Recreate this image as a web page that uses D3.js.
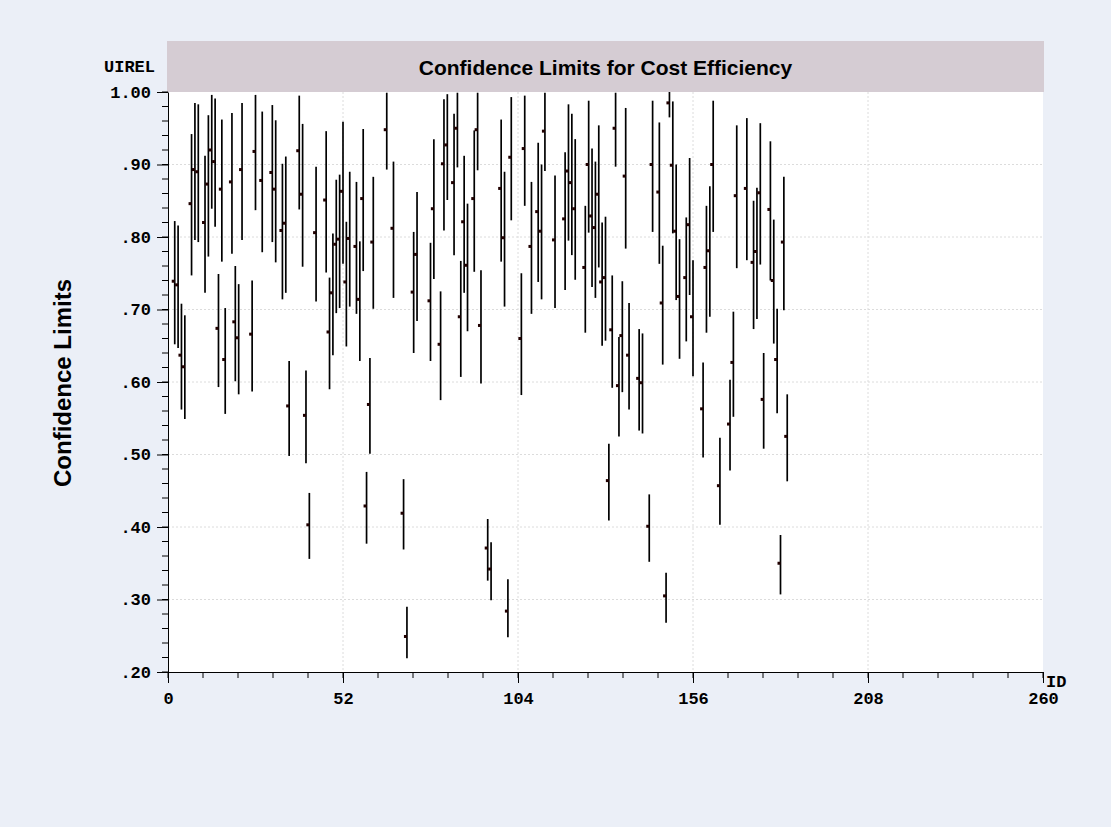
<!DOCTYPE html>
<html>
<head>
<meta charset="utf-8">
<script src="https://cdn.jsdelivr.net/npm/d3@7/dist/d3.min.js"></script>
<style>
  html, body { margin: 0; padding: 0; background: #ebeff7; }
  svg { display: block; }
</style>
</head>
<body>
<div id="figure-div"></div>
<script>
// ID of each firm plotted
var ids = [2,3,4,5,7,8,9,11,12,13,14,15,16,17,19,20,21,22,25,26,28,
  31,32,34,35,36,39,40,41,42,44,47,48,49,50,51,52,53,54,56,57,58,59,60,61,
  65,67,70,71,73,74,78,79,81,82,83,85,86,87,88,89,91,92,
  93,95,96,99,100,101,102,105,106,108,110,111,112,115,118,119,120,121,124,
  125,126,127,128,129,130,131,132,133,134,135,136,137,140,141,143,144,146,147,148,149,150,151,152,154,155,
  156,159,160,161,162,164,167,168,169,172,174,175,176,177,179,180,181,182,183,184];

// point estimate of cost efficiency
var estimate = [0.739,0.734,0.637,0.621,0.846,0.893,0.890,0.820,0.873,0.920,0.904,0.674,0.866,0.631,0.876,0.683,0.661,0.893,0.666,0.918,0.878,
  0.889,0.866,0.809,0.819,0.567,0.919,0.859,0.554,0.403,0.806,0.851,0.669,0.723,0.790,0.797,0.863,0.738,0.798,0.787,0.714,0.853,0.429,0.569,0.793,
  0.948,0.812,0.419,0.249,0.724,0.776,0.712,0.839,0.652,0.901,0.927,0.875,0.950,0.690,0.821,0.761,0.853,0.948,
  0.678,0.371,0.342,0.867,0.799,0.284,0.910,0.660,0.922,0.787,0.835,0.808,0.946,0.796,0.825,0.891,0.875,0.839,0.758,
  0.900,0.829,0.813,0.859,0.738,0.744,0.464,0.672,0.950,0.595,0.664,0.884,0.637,0.605,0.599,0.401,0.900,0.862,0.709,0.305,0.985,0.899,0.808,0.718,0.744,0.817,
  0.690,0.563,0.758,0.781,0.900,0.457,0.542,0.627,0.857,0.867,0.765,0.780,0.861,0.576,0.838,0.740,0.631,0.350,0.793,0.525];

// lower confidence limit
var lower = [0.652,0.647,0.562,0.549,0.747,0.796,0.793,0.723,0.773,0.839,0.814,0.593,0.766,0.556,0.777,0.601,0.583,0.796,0.587,0.837,0.779,
  0.793,0.765,0.714,0.723,0.498,0.838,0.759,0.488,0.356,0.711,0.751,0.590,0.637,0.695,0.702,0.763,0.649,0.704,0.694,0.629,0.753,0.377,0.501,0.701,
  0.893,0.716,0.369,0.219,0.640,0.684,0.629,0.742,0.575,0.809,0.851,0.775,0.896,0.607,0.723,0.670,0.752,0.892,
  0.598,0.326,0.299,0.766,0.704,0.248,0.823,0.582,0.843,0.694,0.738,0.714,0.891,0.702,0.727,0.795,0.775,0.741,0.668,
  0.806,0.731,0.716,0.758,0.650,0.657,0.409,0.592,0.897,0.525,0.586,0.784,0.562,0.533,0.529,0.352,0.807,0.763,0.624,0.268,0.965,0.805,0.713,0.632,0.656,0.720,
  0.608,0.496,0.668,0.690,0.807,0.403,0.478,0.552,0.757,0.768,0.673,0.687,0.762,0.508,0.740,0.653,0.557,0.307,0.699,0.463];

// upper confidence limit
var upper = [0.822,0.816,0.708,0.692,0.942,0.985,0.983,0.912,0.968,0.996,0.991,0.749,0.962,0.702,0.971,0.760,0.735,0.985,0.740,0.996,0.973,
  0.982,0.961,0.901,0.911,0.629,0.995,0.956,0.616,0.447,0.897,0.946,0.744,0.805,0.879,0.886,0.959,0.821,0.890,0.876,0.794,0.949,0.476,0.633,0.883,
  0.999,0.904,0.466,0.290,0.807,0.862,0.792,0.935,0.725,0.990,0.997,0.970,0.999,0.767,0.912,0.846,0.947,0.999,
  0.754,0.411,0.379,0.962,0.890,0.328,0.993,0.750,0.995,0.876,0.930,0.900,0.999,0.885,0.917,0.983,0.970,0.935,0.843,
  0.988,0.922,0.904,0.954,0.820,0.828,0.515,0.747,0.999,0.662,0.739,0.978,0.709,0.673,0.667,0.445,0.988,0.958,0.788,0.337,1.000,0.987,0.900,0.797,0.827,0.909,
  0.768,0.627,0.843,0.870,0.988,0.523,0.603,0.697,0.954,0.964,0.850,0.868,0.957,0.640,0.932,0.824,0.701,0.389,0.883,0.583];

var xTicks = [0, 52, 104, 156, 208, 260];
var yTicks = [0.2, 0.3, 0.4, 0.5, 0.6, 0.7, 0.8, 0.9, 1.0];

var draw_chart = function() {
  var w = 1111;
  var h = 827;
  var pLeft = 168, pRight = 1043, pTop = 92, pBottom = 672;

  var svg = d3.select("#figure-div").append("svg")
    .attr("width", w)
    .attr("height", h);

  svg.append("rect")
    .attr("x", 0).attr("y", 0)
    .attr("width", w).attr("height", h)
    .attr("fill", "#ebeff7");

  var xScale = d3.scaleLinear().domain([0, 260]).range([pLeft, pRight]);
  var yScale = d3.scaleLinear().domain([0.2, 1.0]).range([pBottom, pTop]);

  // plot area
  svg.append("rect")
    .attr("x", pLeft).attr("y", pTop)
    .attr("width", pRight - pLeft).attr("height", pBottom - pTop)
    .attr("fill", "white");

  // title band
  svg.append("rect")
    .attr("x", 167).attr("y", 41)
    .attr("width", 877).attr("height", 51)
    .attr("fill", "#d5ccd3");

  svg.append("text")
    .attr("x", (pLeft + pRight) / 2)
    .attr("y", 75)
    .attr("text-anchor", "middle")
    .style("font-family", "'Liberation Sans', Arial, sans-serif")
    .style("font-weight", "bold")
    .style("font-size", "21px")
    .text("Confidence Limits for Cost Efficiency");

  // grid lines
  svg.append("g").selectAll("line")
    .data(yTicks.slice(1, -1))
    .enter().append("line")
    .attr("x1", pLeft).attr("x2", pRight)
    .attr("y1", function(d) { return yScale(d) })
    .attr("y2", function(d) { return yScale(d) })
    .attr("stroke", "#dcdcdc")
    .attr("stroke-dasharray", "2,2");

  svg.append("g").selectAll("line")
    .data(xTicks.slice(1, -1))
    .enter().append("line")
    .attr("y1", pTop).attr("y2", pBottom)
    .attr("x1", function(d) { return xScale(d) })
    .attr("x2", function(d) { return xScale(d) })
    .attr("stroke", "#dcdcdc")
    .attr("stroke-dasharray", "2,2");

  // error bars, clipped to the plot
  svg.append("clipPath").attr("id", "plotclip")
    .append("rect")
    .attr("x", pLeft).attr("y", pTop)
    .attr("width", pRight - pLeft).attr("height", pBottom - pTop);

  var marks = svg.append("g").attr("clip-path", "url(#plotclip)");

  marks.selectAll("line.bar")
    .data(ids)
    .enter().append("line")
    .attr("class", "bar")
    .attr("x1", function(d) { return xScale(d) })
    .attr("x2", function(d) { return xScale(d) })
    .attr("y1", function(d, i) { return yScale(upper[i]) })
    .attr("y2", function(d, i) { return yScale(lower[i]) })
    .attr("stroke", "black")
    .attr("stroke-width", 1.7);

  marks.selectAll("rect.dot")
    .data(ids)
    .enter().append("rect")
    .attr("class", "dot")
    .attr("x", function(d) { return xScale(d) - 3 })
    .attr("y", function(d, i) { return yScale(estimate[i]) - 1.5 })
    .attr("width", 3)
    .attr("height", 3)
    .attr("fill", "#200000");

  // axes
  var monoFont = "'Liberation Mono', 'Courier New', monospace";

  var yMinor = d3.range(0.2, 1.0001, 0.02);
  svg.append("g").selectAll("line")
    .data(yMinor)
    .enter().append("line")
    .attr("x1", pLeft - 6).attr("x2", pLeft)
    .attr("y1", function(d) { return yScale(d) })
    .attr("y2", function(d) { return yScale(d) })
    .attr("stroke", "black");

  var yAxis = d3.axisLeft(yScale)
    .tickValues(yTicks)
    .tickSize(11)
    .tickSizeOuter(0)
    .tickPadding(6)
    .tickFormat(function(d) { return d3.format(".2f")(d).replace(/^0/, "") });

  var gy = svg.append("g")
    .attr("transform", "translate(" + pLeft + ",0)")
    .call(yAxis);
  gy.select(".domain").attr("stroke", "black");
  gy.selectAll("text")
    .style("font-family", monoFont)
    .style("font-weight", "bold")
    .style("font-size", "17px")
    .attr("fill", "black");

  var xMinor = d3.range(0, 260.001, 10.4);
  svg.append("g").selectAll("line")
    .data(xMinor)
    .enter().append("line")
    .attr("y1", pBottom).attr("y2", pBottom + 6)
    .attr("x1", function(d) { return xScale(d) })
    .attr("x2", function(d) { return xScale(d) })
    .attr("stroke", "black");

  var xAxis = d3.axisBottom(xScale)
    .tickValues(xTicks)
    .tickSize(11)
    .tickSizeOuter(0)
    .tickPadding(9)
    .tickFormat(d3.format("d"));

  var gx = svg.append("g")
    .attr("transform", "translate(0," + pBottom + ")")
    .call(xAxis);
  gx.select(".domain").attr("stroke", "black");
  gx.selectAll("text")
    .style("font-family", monoFont)
    .style("font-weight", "bold")
    .style("font-size", "17px")
    .attr("fill", "black");

  // axis names
  svg.append("text")
    .attr("x", 155).attr("y", 72)
    .attr("text-anchor", "end")
    .style("font-family", monoFont)
    .style("font-weight", "bold")
    .style("font-size", "17px")
    .text("UIREL");

  svg.append("text")
    .attr("x", 1046).attr("y", 687)
    .style("font-family", monoFont)
    .style("font-weight", "bold")
    .style("font-size", "17px")
    .text("ID");

  svg.append("text")
    .attr("transform", "translate(71," + ((pTop + pBottom) / 2 + 1) + ") rotate(-90)")
    .attr("text-anchor", "middle")
    .style("font-family", "'Liberation Sans', Arial, sans-serif")
    .style("font-weight", "bold")
    .style("font-size", "24px")
    .text("Confidence Limits");
}

draw_chart();
</script>
</body>
</html>
